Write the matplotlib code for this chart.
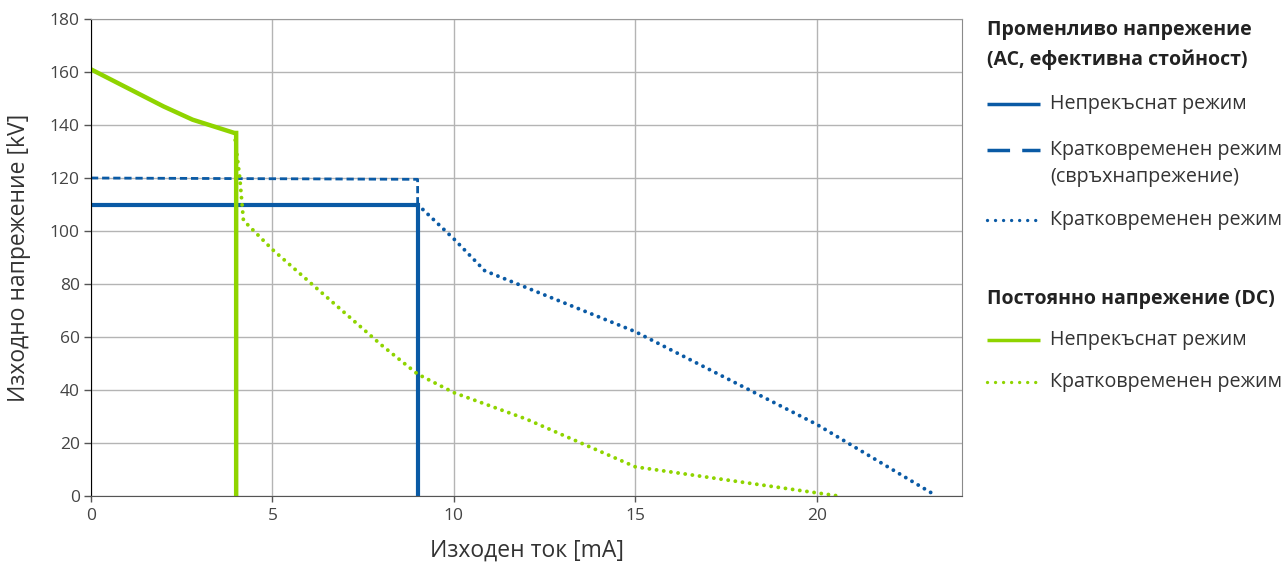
import matplotlib
matplotlib.use("Agg")
import matplotlib.pyplot as plt
from matplotlib.lines import Line2D

plt.rcParams['font.family'] = ['Open Sans', 'DejaVu Sans']

BLUE = '#0a5aa5'
GREEN = '#8fd400'

# AC (RMS)
ac_cont_x = [0, 9, 9]
ac_cont_y = [110, 110, 0]
ac_over_x = [0, 9, 9]
ac_over_y = [120, 119.5, 110]
ac_short_x = [9, 10, 10.85, 15, 20, 23.3]
ac_short_y = [110, 97, 85, 62, 27, 0]

# DC
dc_cont_x = [0, 2, 2.8, 3.95, 4, 4]
dc_cont_y = [161, 147, 142, 137, 137, 0]
dc_short_x = [3.95, 4.1, 4.2, 5, 6, 7, 8, 9, 10, 12, 15, 20.6]
dc_short_y = [137, 120, 104, 93, 81, 69, 57, 46, 39, 29, 11, 0]

xticks = [0, 5, 10, 15, 20]
yticks = list(range(0, 181, 20))

legend_ac_title = ['Променливо напрежение', '(AC, ефективна стойност)']
legend_dc_title = 'Постоянно напрежение (DC)'
lbl_cont = 'Непрекъснат режим'
lbl_over = ['Кратковременен режим', '(свръхнапрежение)']
lbl_short = 'Кратковременен режим'

W, H = 1286, 563
fig = plt.figure(figsize=(W/100, H/100), dpi=100)
ax = fig.add_axes([91/W, 1-496/H, (962-91)/W, (496-19)/H])

DOT = (0, (0.01, 1.85))
ax.plot(ac_cont_x, ac_cont_y, color=BLUE, lw=3, solid_joinstyle='miter')
ax.plot(ac_over_x, ac_over_y, color=BLUE, lw=2, ls=(0, (2.6, 1.4)))
ax.plot(ac_short_x, ac_short_y, color=BLUE, lw=2.8, ls=DOT, dash_capstyle='round')
ax.plot(dc_cont_x, dc_cont_y, color=GREEN, lw=3.2, solid_joinstyle='miter')
ax.plot(dc_short_x, dc_short_y, color=GREEN, lw=2.8, ls=DOT, dash_capstyle='round')

ax.set_xlim(0, 24)
ax.set_ylim(0, 180)
ax.set_xticks(xticks)
ax.set_yticks(yticks)
ax.grid(True, color='#b4b4b4', lw=1)
ax.set_axisbelow(True)
ax.spines['top'].set_color('#9a9a9a')
ax.spines['right'].set_color('#8a8a8a')
ax.spines['left'].set_color('black')
ax.spines['bottom'].set_color('#555555')
ax.tick_params(axis='both', colors='#555555', labelcolor='#444444', labelsize=12.5, width=1)
ax.tick_params(axis='y', length=5, pad=3)
ax.tick_params(axis='x', length=4, pad=5)
ax.set_xlabel('Изходен ток [mA]', fontsize=16.5, color='#333333')
ax.set_ylabel('Изходно напрежение [kV]', fontsize=16.5, color='#333333')
ax.xaxis.set_label_coords(0.5, -0.090)
ax.yaxis.set_label_coords(-0.069, 0.5)

def fx(px):
    return px / W
def fy(py):
    return 1 - py / H

def handle(py, color, ls, lw, cap='butt'):
    fig.add_artist(Line2D([fx(987), fx(1040)], [fy(py), fy(py)], color=color, lw=lw, ls=ls,
                          dash_capstyle=cap, solid_capstyle='butt'))

def text(py, s, bold=False, x=1050):
    fig.text(fx(x), fy(py), s, fontsize=14 if bold else 14.2,
             fontweight='bold' if bold else 'normal',
             color='#222222' if bold else '#333333', va='center', ha='left')

text(30, legend_ac_title[0], bold=True, x=987)
text(60, legend_ac_title[1], bold=True, x=987)
handle(104, BLUE, '-', 2.5)
text(104, lbl_cont)
handle(150, BLUE, (0, (6.5, 3.5)), 2.5)
text(150, lbl_over[0])
text(177, lbl_over[1])
handle(220, BLUE, (0, (0.01, 2.4)), 2.4, cap='round')
text(220, lbl_short)

text(299, legend_dc_title, bold=True, x=987)
handle(340, GREEN, '-', 2.5)
text(340, lbl_cont)
handle(382, GREEN, (0, (0.01, 2.4)), 2.4, cap='round')
text(382, lbl_short)

fig.savefig('out.png', dpi=100)
